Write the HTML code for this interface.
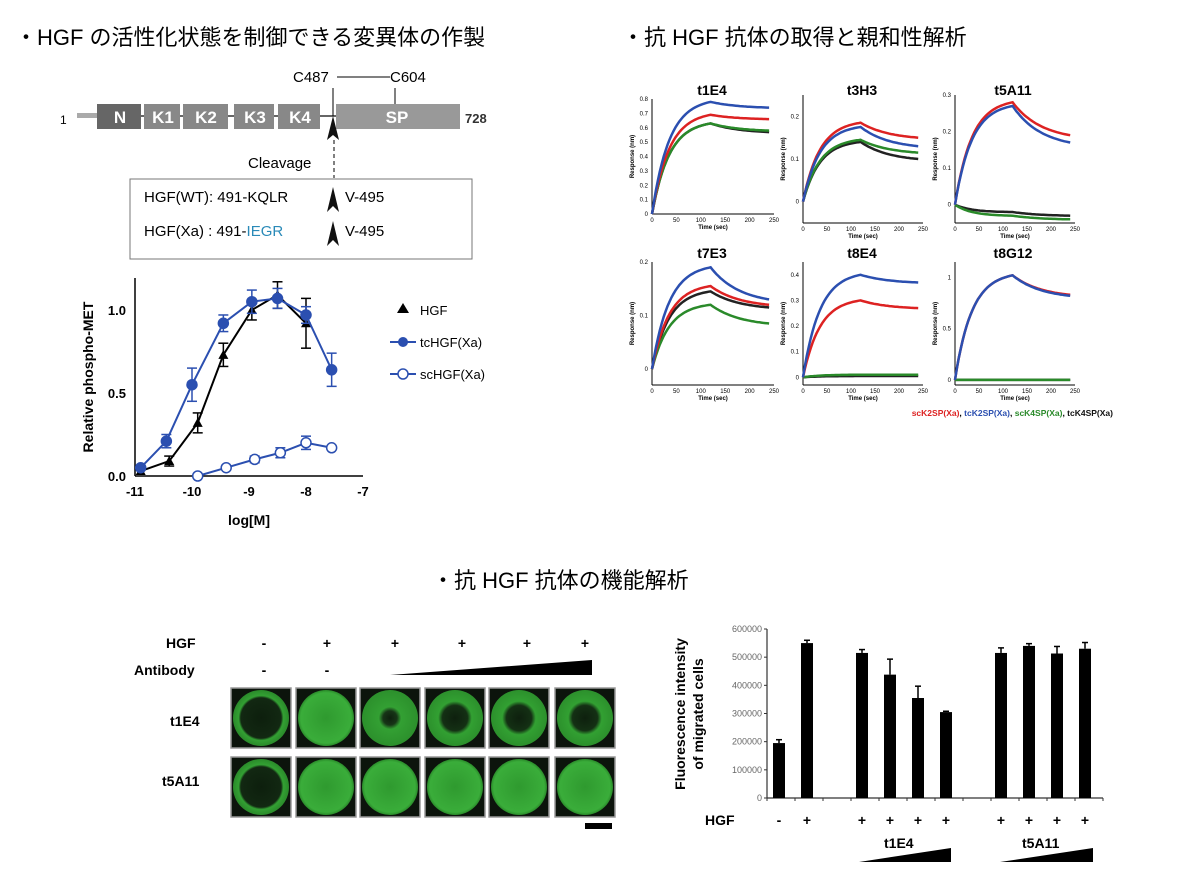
<!DOCTYPE html>
<html><head><meta charset="utf-8"><style>
body{margin:0;background:#fff;}
svg text{font-family:"Liberation Sans","Noto Sans CJK JP",sans-serif;}
</style></head><body>
<svg id="s" width="1185" height="883" xmlns="http://www.w3.org/2000/svg">
<defs>
<radialGradient id="full"><stop offset="0" stop-color="#2f9a2f"/><stop offset="0.9" stop-color="#3aad3a"/><stop offset="1" stop-color="#2a8a2a"/></radialGradient>
<radialGradient id="ring"><stop offset="0" stop-color="#0d1f0d"/><stop offset="0.72" stop-color="#122812"/><stop offset="0.8" stop-color="#33a033"/><stop offset="1" stop-color="#2a8a2a"/></radialGradient>
<radialGradient id="mid"><stop offset="0" stop-color="#0e200e"/><stop offset="0.45" stop-color="#143014"/><stop offset="0.6" stop-color="#32a032"/><stop offset="1" stop-color="#2c902c"/></radialGradient>
<radialGradient id="small"><stop offset="0" stop-color="#0e200e"/><stop offset="0.25" stop-color="#173517"/><stop offset="0.4" stop-color="#33a033"/><stop offset="1" stop-color="#2c902c"/></radialGradient>
</defs>
<g font-size="22" fill="#000">
<text x="15" y="45">・HGF の活性化状態を制御できる変異体の作製</text>
<text x="622" y="45">・抗 HGF 抗体の取得と親和性解析</text>
<text x="432" y="588">・抗 HGF 抗体の機能解析</text>
</g>
<!-- domain diagram -->
<g>
<text x="60" y="124" font-size="12">1</text>
<rect x="77" y="113" width="20" height="5" fill="#aaa"/>
<line x1="97" y1="116" x2="336" y2="116" stroke="#333" stroke-width="1.5"/>
<rect x="97" y="104" width="44" height="25" fill="#666"/>
<rect x="144" y="104" width="36" height="25" fill="#888"/>
<rect x="183" y="104" width="45" height="25" fill="#888"/>
<rect x="234" y="104" width="40" height="25" fill="#888"/>
<rect x="278" y="104" width="42" height="25" fill="#888"/>
<rect x="336" y="104" width="124" height="25" fill="#999"/>
<g fill="#fff" font-weight="bold" font-size="17" text-anchor="middle">
<text x="120" y="123">N</text><text x="163" y="123">K1</text><text x="206" y="123">K2</text><text x="255" y="123">K3</text><text x="300" y="123">K4</text><text x="397" y="123">SP</text></g>
<text x="465" y="123" font-size="13" font-weight="bold" fill="#333">728</text>
<text x="293" y="82" font-size="15">C487</text><text x="390" y="82" font-size="15">C604</text>
<line x1="337" y1="77" x2="390" y2="77" stroke="#000"/>
<line x1="333" y1="88" x2="333" y2="116" stroke="#000"/><line x1="395" y1="88" x2="395" y2="104" stroke="#000"/>
<path d="M333 116 L327 140 L333 135 L339 140Z" fill="#111"/>
<line x1="334" y1="140" x2="334" y2="178" stroke="#000" stroke-dasharray="4,3"/>
<text x="248" y="168" font-size="15">Cleavage</text>
<rect x="130" y="179" width="342" height="80" fill="none" stroke="#777"/>
<text x="144" y="202" font-size="15">HGF(WT): 491-KQLR</text><text x="345" y="202" font-size="15">V-495</text>
<text x="144" y="236" font-size="15">HGF(Xa) : 491-<tspan fill="#2a8ab8">IEGR</tspan></text><text x="345" y="236" font-size="15">V-495</text>
<path d="M333 187 L327 212 L333 206 L339 212Z" fill="#111"/>
<path d="M333 221 L327 246 L333 240 L339 246Z" fill="#111"/>
</g>
<!-- dose response -->
<g id="dr" stroke="#000" fill="none" stroke-width="1.5">
<line x1="135" y1="278" x2="135" y2="476"/><line x1="135" y1="476" x2="363" y2="476"/>
</g>
<g font-size="13" font-weight="bold" fill="#000">
<text x="126" y="315" text-anchor="end">1.0</text><text x="126" y="398" text-anchor="end">0.5</text><text x="126" y="481" text-anchor="end">0.0</text>
<text x="135" y="496" text-anchor="middle">-11</text><text x="192" y="496" text-anchor="middle">-10</text><text x="249" y="496" text-anchor="middle">-9</text><text x="306" y="496" text-anchor="middle">-8</text><text x="363" y="496" text-anchor="middle">-7</text>
<text x="249" y="525" text-anchor="middle" font-size="14">log[M]</text>
<text transform="translate(93,377) rotate(-90)" text-anchor="middle" font-size="14">Relative phospho-MET</text>
<text x="420" y="315" font-weight="normal">HGF</text><text x="420" y="347" font-weight="normal">tcHGF(Xa)</text><text x="420" y="379" font-weight="normal">scHGF(Xa)</text>
</g>
<path d="M397 313 L403 303 L409 313Z" fill="#000"/>
<line x1="390" y1="342" x2="416" y2="342" stroke="#2b4fb0" stroke-width="2"/><circle cx="403" cy="342" r="5" fill="#2b4fb0"/>
<line x1="390" y1="374" x2="416" y2="374" stroke="#2b4fb0" stroke-width="2"/><circle cx="403" cy="374" r="5" fill="#fff" stroke="#2b4fb0" stroke-width="1.5"/>
<!-- binding axes labels -->
<g font-size="14" font-weight="bold" text-anchor="middle">
<text x="712" y="95">t1E4</text><text x="862" y="95">t3H3</text><text x="1013" y="95">t5A11</text>
<text x="712" y="258">t7E3</text><text x="862" y="258">t8E4</text><text x="1013" y="258">t8G12</text>
</g>
<text x="1113" y="416" font-size="8.5" font-weight="bold" text-anchor="end"><tspan fill="#d22">scK2SP(Xa)</tspan>, <tspan fill="#2b4fb0">tcK2SP(Xa)</tspan>, <tspan fill="#2a8a2a">scK4SP(Xa)</tspan>, <tspan fill="#111">tcK4SP(Xa)</tspan></text>
<!-- wells labels -->
<g font-size="14" font-weight="bold">
<text x="166" y="648">HGF</text><text x="134" y="675">Antibody</text>
<text x="170" y="726">t1E4</text><text x="162" y="786">t5A11</text>
<g text-anchor="middle"><text x="264" y="648">-</text><text x="327" y="648">+</text><text x="395" y="648">+</text><text x="462" y="648">+</text><text x="527" y="648">+</text><text x="585" y="648">+</text>
<text x="264" y="675">-</text><text x="327" y="675">-</text></g>
</g>
<path d="M390 675 L592 660 L592 675Z" fill="#000"/>
<rect x="585" y="823" width="27" height="6" fill="#000"/>
<!-- bar chart -->
<g stroke="#333" stroke-width="1.2"><line x1="767" y1="629" x2="767" y2="798"/><line x1="767" y1="798" x2="1103" y2="798"/></g>
<g font-size="9" fill="#666" text-anchor="end" id="bt"></g>
<text transform="translate(685,714) rotate(-90)" text-anchor="middle" font-size="14" font-weight="bold">Fluorescence intensity</text>
<text transform="translate(703,714) rotate(-90)" text-anchor="middle" font-size="14" font-weight="bold">of migrated cells</text>
<g font-size="14" font-weight="bold"><text x="705" y="825">HGF</text><text x="884" y="848">t1E4</text><text x="1022" y="848">t5A11</text></g>
<g font-size="14" font-weight="bold" text-anchor="middle" id="bp"></g>
<path d="M859 862 L951 848 L951 862Z" fill="#000"/><path d="M1000 862 L1093 848 L1093 862Z" fill="#000"/>
</svg>
<script>
const S=document.getElementById('s'),NS='http://www.w3.org/2000/svg';
function el(t,a,p){const e=document.createElementNS(NS,t);for(const k in a)e.setAttribute(k,a[k]);(p||S).appendChild(e);return e;}
// dose response
const X=v=>135+(v+11)*57,Y=v=>476-v*166;
function series(pts,col,fillc,marker){
 el('polyline',{points:pts.map(p=>X(p[0])+','+Y(p[1])).join(' '),fill:'none',stroke:col,'stroke-width':2});
 pts.forEach(p=>{const x=X(p[0]),y=Y(p[1]);if(p[2]){el('line',{x1:x,y1:Y(p[1]-p[2]),x2:x,y2:Y(p[1]+p[2]),stroke:col,'stroke-width':1.5});el('line',{x1:x-5,y1:Y(p[1]+p[2]),x2:x+5,y2:Y(p[1]+p[2]),stroke:col,'stroke-width':1.5});el('line',{x1:x-5,y1:Y(p[1]-p[2]),x2:x+5,y2:Y(p[1]-p[2]),stroke:col,'stroke-width':1.5});}
 if(marker=='t')el('path',{d:`M${x-5} ${y+4}L${x} ${y-5}L${x+5} ${y+4}Z`,fill:col});else el('circle',{cx:x,cy:y,r:5,fill:fillc,stroke:col,'stroke-width':1.5});});}
series([[-10.9,0.03,0],[-10.4,0.09,0.03],[-9.9,0.32,0.06],[-9.45,0.73,0.07],[-8.95,1.0,0.06],[-8.5,1.09,0.08],[-8,0.92,0.15]],'#000','#000','t');
series([[-10.9,0.05,0],[-10.45,0.21,0.04],[-10.0,0.55,0.1],[-9.45,0.92,0.05],[-8.95,1.05,0.07],[-8.5,1.07,0.06],[-8,0.97,0.05],[-7.55,0.64,0.1]],'#2b4fb0','#2b4fb0','c');
series([[-9.9,0.0,0],[-9.4,0.05,0],[-8.9,0.1,0.02],[-8.45,0.14,0.03],[-8,0.2,0.04],[-7.55,0.17,0]],'#2b4fb0','#fff','c');
// binding panels
const panels=[[652,774,99,214,[[.78,.74],[.69,.66],[.63,.58],[.63,.57]],0.8,[0,.1,.2,.3,.4,.5,.6,.7,.8],0,220],
[803,923,95,223,[[.175,.13],[.185,.15],[.145,.115],[.14,.1]],0.25,[0,.1,.2],-0.05,220],
[955,1075,95,223,[[.27,.17],[.28,.19],[-0.03,-.04],[-0.02,-.03]],0.3,[0,.1,.2,.3],-0.05,220],
[652,774,262,385,[[.19,.13],[.155,.12],[.12,.085],[.145,.115]],0.2,[0,.1,.2],-0.03,385],
[803,923,262,385,[[.4,.37],[.3,.27],[.01,.01],[.005,.005]],0.45,[0,.1,.2,.3,.4],-0.03,385],
[955,1075,262,385,[[1.02,.82],[1.02,.83],[0,0],[0,0]],1.15,[0,.5,1],-0.05,385]];
const cols=['#2b4fb0','#d22','#2a8a2a','#222'];
panels.forEach(p=>{const[x0,x1,yt,yb,c,max,ticks,min]=p;const ys=v=>yb-(v-min)/(max-min)*(yb-yt);const xs=t=>x0+t/250*(x1-x0);
 el('line',{x1:x0,y1:yt,x2:x0,y2:yb,stroke:'#000'});el('line',{x1:x0,y1:yb,x2:x1,y2:yb,stroke:'#000'});
 ticks.forEach(t=>{const e=el('text',{x:x0-4,y:ys(t)+2,'font-size':6,'text-anchor':'end'});e.textContent=t;});
 [0,50,100,150,200,250].forEach(t=>{const e=el('text',{x:xs(t),y:yb+8,'font-size':6,'text-anchor':'middle'});e.textContent=t;});
 let e=el('text',{x:(x0+x1)/2,y:yb+15,'font-size':6,'font-weight':'bold','text-anchor':'middle'});e.textContent='Time (sec)';
 e=el('text',{transform:`translate(${x0-18},${(yt+yb)/2}) rotate(-90)`,'font-size':6,'font-weight':'bold','text-anchor':'middle'});e.textContent='Response (nm)';
 [3,2,1,0].forEach(i=>{const[pk,end]=c[i];let d='';for(let t=0;t<=240;t+=4){let v=t<=120?pk*(1-Math.exp(-t/35))/(1-Math.exp(-120/35)):end+(pk-end)*Math.exp(-(t-120)/80)*(1-(t-120)/120*0.3)/1;if(t>120)v=pk+(end-pk)*(1-Math.exp(-(t-120)/60))/(1-Math.exp(-2));d+=(t?'L':'M')+xs(t).toFixed(1)+' '+ys(v).toFixed(1);}el('path',{d,fill:'none',stroke:cols[i],'stroke-width':2.5});});});
// wells
const wx=[231,296,360,425,489,555],g1=['ring','full','small','mid','mid','mid'],g2=['ring','full','full','full','full','full'];
[[688,g1],[757,g2]].forEach(([y,g])=>wx.forEach((x,i)=>{el('rect',{x,y,width:60,height:60,fill:'#0c140c',stroke:'#999','stroke-width':1.5});el('circle',{cx:x+30,cy:y+30,r:28,fill:`url(#${g[i]})`});}));
// bar chart
const bt=document.getElementById('bt'),by=v=>798-v/600000*169;
[0,100000,200000,300000,400000,500000,600000].forEach(v=>{const e=el('text',{x:762,y:by(v)+3},bt);e.textContent=v;el('line',{x1:764,y1:by(v),x2:767,y2:by(v),stroke:'#333'});});
for(let i=0;i<=12;i++){const x=767+i*28;el('line',{x1:x,y1:798,x2:x,y2:801,stroke:'#333'});}
const bars=[[779,195000,12000],[807,550000,10000],[862,515000,12000],[890,438000,55000],[918,355000,42000],[946,305000,3000],[1001,515000,18000],[1029,540000,8000],[1057,513000,25000],[1085,530000,22000]];
const bp=document.getElementById('bp');
bars.forEach(([x,v,e],i)=>{el('line',{x1:x,y1:by(v),x2:x,y2:by(v+e),stroke:'#000','stroke-width':1.5});el('line',{x1:x-3,y1:by(v+e),x2:x+3,y2:by(v+e),stroke:'#000','stroke-width':1.5});el('rect',{x:x-6,y:by(v),width:12,height:798-by(v),fill:'#000'});const t=el('text',{x,y:825},bp);t.textContent=i?'+':'-';});
</script>
</body></html>
